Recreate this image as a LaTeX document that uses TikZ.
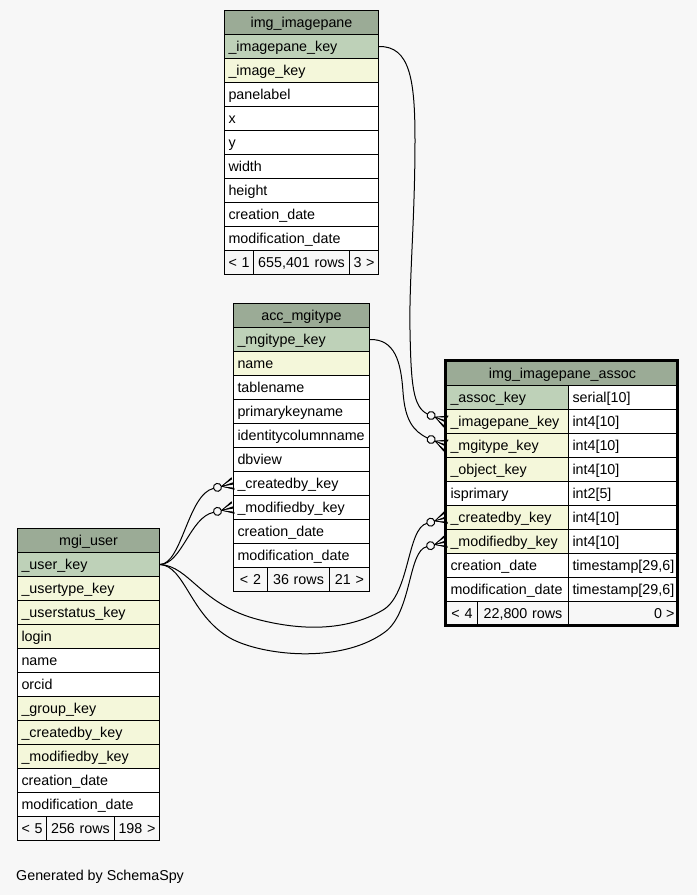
\documentclass[tikz,border=0pt]{standalone}
\usepackage{fontspec}
\setmainfont{Liberation Sans}
\definecolor{bg}{HTML}{F7F7F7}
\definecolor{hdr}{HTML}{9BAB96}
\definecolor{pk}{HTML}{BED1B8}
\definecolor{fk}{HTML}{F4F7DA}
\tikzset{
  cell/.style={draw=black, line width=1pt, anchor=north west, inner xsep=4pt, inner ysep=0pt,
    minimum height=24pt, text height=10.5pt, text depth=1.5pt, font=\fontsize{14.3}{16}\selectfont},
  rel/.style={draw=black, line width=1pt},
  crow/.pic={
    \fill[black] (-12pt,0pt) -- (0pt,6.5pt) -- (0pt,4.3pt) -- cycle
                 (-12pt,0pt) -- (0pt,1.1pt) -- (0pt,-1.1pt) -- cycle
                 (-12pt,0pt) -- (0pt,-4.3pt) -- (0pt,-6.5pt) -- cycle;
    \draw[line width=0.6pt] (-12pt,0pt) -- (0pt,5.4pt) (-12pt,0pt) -- (0pt,0pt) (-12pt,0pt) -- (0pt,-5.4pt);
    \draw[line width=1pt, fill=bg] (-16pt,0pt) circle[radius=4pt];
    \coordinate (-e) at (-20pt,0pt);
  },
}
% name, x, y, width, fill, align, text
\newcommand\erow[7]{\pgfmathsetmacro\erw{#4-8}\node[cell,fill=#5,minimum width=#4pt,text width=\erw pt,align=#6] (#1) at (#2,#3) {\mbox{#7}};}
\begin{document}
\begin{tikzpicture}[x=1pt,y=-1pt]
\path[fill=bg,use as bounding box] (0,0) rectangle (697,895);

% img_imagepane
\erow{ipH}{224}{10}{154}{hdr}{center}{img\_imagepane}
\erow{ip1}{224}{34}{154}{pk}{flush left}{\_imagepane\_key}
\erow{ip2}{224}{58}{154}{fk}{flush left}{\_image\_key}
\erow{ip3}{224}{82}{154}{white}{flush left}{panelabel}
\erow{ip4}{224}{106}{154}{white}{flush left}{x}
\erow{ip5}{224}{130}{154}{white}{flush left}{y}
\erow{ip6}{224}{154}{154}{white}{flush left}{width}
\erow{ip7}{224}{178}{154}{white}{flush left}{height}
\erow{ip8}{224}{202}{154}{white}{flush left}{creation\_date}
\erow{ip9}{224}{226}{154}{white}{flush left}{modification\_date}
\erow{ipF1}{224}{250}{29}{bg}{center}{< 1}
\erow{ipF2}{253}{250}{96}{bg}{center}{655,401 rows}
\erow{ipF3}{349}{250}{29}{bg}{center}{3 >}

% acc_mgitype
\erow{amH}{233}{303}{136}{hdr}{center}{acc\_mgitype}
\erow{am1}{233}{327}{136}{pk}{flush left}{\_mgitype\_key}
\erow{am2}{233}{351}{136}{fk}{flush left}{name}
\erow{am3}{233}{375}{136}{white}{flush left}{tablename}
\erow{am4}{233}{399}{136}{white}{flush left}{primarykeyname}
\erow{am5}{233}{423}{136}{white}{flush left}{identitycolumnname}
\erow{am6}{233}{447}{136}{white}{flush left}{dbview}
\erow{am7}{233}{471}{136}{white}{flush left}{\_createdby\_key}
\erow{am8}{233}{495}{136}{white}{flush left}{\_modifiedby\_key}
\erow{am9}{233}{519}{136}{white}{flush left}{creation\_date}
\erow{am10}{233}{543}{136}{white}{flush left}{modification\_date}
\erow{amF1}{233}{567}{34}{bg}{center}{< 2}
\erow{amF2}{267}{567}{62}{bg}{center}{36 rows}
\erow{amF3}{329}{567}{40}{bg}{center}{21 >}

% mgi_user
\erow{muH}{17}{528}{142}{hdr}{center}{mgi\_user}
\erow{mu1}{17}{552}{142}{pk}{flush left}{\_user\_key}
\erow{mu2}{17}{576}{142}{fk}{flush left}{\_usertype\_key}
\erow{mu3}{17}{600}{142}{fk}{flush left}{\_userstatus\_key}
\erow{mu4}{17}{624}{142}{fk}{flush left}{login}
\erow{mu5}{17}{648}{142}{white}{flush left}{name}
\erow{mu6}{17}{672}{142}{white}{flush left}{orcid}
\erow{mu7}{17}{696}{142}{fk}{flush left}{\_group\_key}
\erow{mu8}{17}{720}{142}{fk}{flush left}{\_createdby\_key}
\erow{mu9}{17}{744}{142}{fk}{flush left}{\_modifiedby\_key}
\erow{mu10}{17}{768}{142}{white}{flush left}{creation\_date}
\erow{mu11}{17}{792}{142}{white}{flush left}{modification\_date}
\erow{muF1}{17}{816}{29}{bg}{center}{< 5}
\erow{muF2}{46}{816}{68}{bg}{center}{256 rows}
\erow{muF3}{114}{816}{45}{bg}{center}{198 >}

% img_imagepane_assoc
\erow{asH}{446}{361}{232}{hdr}{center}{img\_imagepane\_assoc}
\erow{as1}{446}{385}{122}{pk}{flush left}{\_assoc\_key}
\erow{as1t}{568}{385}{110}{white}{flush left}{serial[10]}
\erow{as2}{446}{409}{122}{fk}{flush left}{\_imagepane\_key}
\erow{as2t}{568}{409}{110}{white}{flush left}{int4[10]}
\erow{as3}{446}{433}{122}{fk}{flush left}{\_mgitype\_key}
\erow{as3t}{568}{433}{110}{white}{flush left}{int4[10]}
\erow{as4}{446}{457}{122}{fk}{flush left}{\_object\_key}
\erow{as4t}{568}{457}{110}{white}{flush left}{int4[10]}
\erow{as5}{446}{481}{122}{white}{flush left}{isprimary}
\erow{as5t}{568}{481}{110}{white}{flush left}{int2[5]}
\erow{as6}{446}{505}{122}{fk}{flush left}{\_createdby\_key}
\erow{as6t}{568}{505}{110}{white}{flush left}{int4[10]}
\erow{as7}{446}{529}{122}{fk}{flush left}{\_modifiedby\_key}
\erow{as7t}{568}{529}{110}{white}{flush left}{int4[10]}
\erow{as8}{446}{553}{122}{white}{flush left}{creation\_date}
\erow{as8t}{568}{553}{110}{white}{flush left}{timestamp[29,6]}
\erow{as9}{446}{577}{122}{white}{flush left}{modification\_date}
\erow{as9t}{568}{577}{110}{white}{flush left}{timestamp[29,6]}
\erow{asF1}{446}{601}{31}{bg}{center}{< 4}
\erow{asF2}{477}{601}{91}{bg}{center}{22,800 rows}
\erow{asF3}{568}{601}{110}{bg}{flush right}{0 >}
\draw[line width=3pt] (445.8,360.5) rectangle (677.8,625.5);

% crow's feet
\pic[rotate=-22] (k1) at (as2.west) {crow};
\pic[rotate=-22] (k2) at (as3.west) {crow};
\pic[rotate=17] (k3) at (as6.west) {crow};
\pic[rotate=15] (k4) at (as7.west) {crow};
\pic[rotate=14] (k5) at (am7.west) {crow};
\pic[rotate=14] (k6) at (am8.west) {crow};

% relationships
\draw[rel] (ip1.east) .. controls (410,46) and (415,80) .. (415,140)
  .. controls (415,220) and (409,280) .. (410,330)
  .. controls (411,385) and (413,407) .. (k1-e);
\draw[rel] (am1.east) .. controls (395,339) and (401,362) .. (403,392)
  .. controls (405,420) and (413,431) .. (k2-e);
\draw[rel] (mu1.east) .. controls (182,564) and (188,494) .. (k5-e);
\draw[rel] (mu1.east) .. controls (182,564) and (190,517) .. (k6-e);
\draw[rel] (mu1.east) .. controls (190,566) and (200,605) .. (260,620)
  .. controls (300,630) and (345,632) .. (383,610)
  .. controls (410,594) and (407,528) .. (k3-e);
\draw[rel] (mu1.east) .. controls (185,566) and (190,615) .. (230,638)
  .. controls (260,655) and (340,665) .. (385,632)
  .. controls (412,612) and (408,551) .. (k4-e);

\node[anchor=base west, inner sep=0pt, font=\fontsize{14.3}{16}\selectfont] (gen) at (16,880) {Generated by SchemaSpy};
\end{tikzpicture}
\end{document}
